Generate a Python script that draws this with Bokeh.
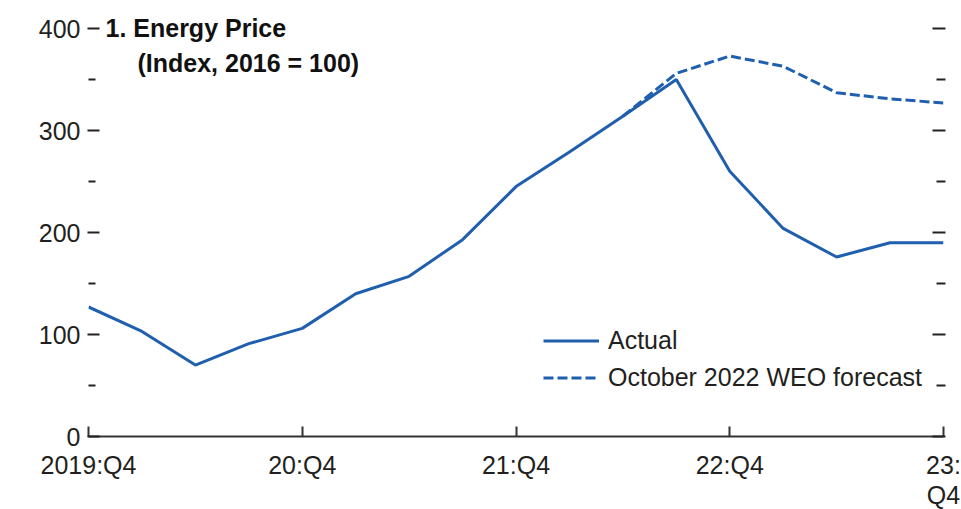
import numpy as np
from bokeh.plotting import figure
from bokeh.models import (Range1d, LinearAxis, FixedTicker, Label, Legend, LegendItem,
                          ColumnDataSource)
from bokeh.embed import file_html
from bokeh.resources import INLINE

# ---- data ----
quarters = ["2019:Q4", "20:Q1", "20:Q2", "20:Q3", "20:Q4", "21:Q1", "21:Q2", "21:Q3",
            "21:Q4", "22:Q1", "22:Q2", "22:Q3", "22:Q4", "23:Q1", "23:Q2", "23:Q3", "23:Q4"]
actual = [127, 103, 70, 91, 106, 140, 157, 193, 245, 279, 314, 350, 260, 204, 176, 190, 190]
forecast = [None, None, None, None, None, None, None, None, None, None,
            314, 356, 373, 363, 337, 331, 327]
tick_positions = [0, 4, 8, 12, 16]
tick_labels = ["2019:Q4", "20:Q4", "21:Q4", "22:Q4", "23:\nQ4"]
y_major = [0, 100, 200, 300, 400]
y_minor = [50, 150, 250, 350]

FONT = "Liberation Sans"
FS = "25px"
BLUE = "#1F5FAD"
TXT = "#231F20"

idx = list(range(len(quarters)))
src = ColumnDataSource(dict(
    x=idx,
    actual=actual,
    forecast=[np.nan if v is None else v for v in forecast],
))

FRAME_H = 428
Y_TOP = 400 * FRAME_H / 408.0   # leaves room above the 400 tick for the title

p = figure(frame_width=855, frame_height=FRAME_H, output_backend="svg", toolbar_location=None,
           x_range=Range1d(0, 16), y_range=Range1d(0, Y_TOP),
           min_border_left=88, min_border_right=18, min_border_top=8, min_border_bottom=40,
           y_axis_location=None, x_axis_location=None)
p.xgrid.visible = False
p.ygrid.visible = False
p.outline_line_color = None
p.background_fill_color = "white"

# bottom axis
xb = LinearAxis(ticker=FixedTicker(ticks=tick_positions, minor_ticks=[]))
xb.major_label_overrides = {t: l for t, l in zip(tick_positions, tick_labels)}
xb.axis_line_color = "#333333"
xb.axis_line_width = 2
xb.major_tick_line_color = "#333333"
xb.major_tick_line_width = 2
xb.major_tick_in = 10
xb.major_tick_out = 0
xb.minor_tick_line_color = None
xb.major_label_text_font = FONT
xb.major_label_text_font_size = FS
xb.major_label_text_color = TXT
xb.major_label_text_line_height = 1.1
xb.major_label_standoff = 14
p.add_layout(xb, "below")

# left axis
yl = LinearAxis(ticker=FixedTicker(ticks=y_major, minor_ticks=y_minor), bounds=(0, 400))
yl.axis_line_color = None
yl.major_tick_line_color = "#222222"
yl.major_tick_line_width = 2
yl.major_tick_in = 11
yl.major_tick_out = 1
yl.minor_tick_line_color = "#222222"
yl.minor_tick_line_width = 2
yl.minor_tick_in = 7
yl.minor_tick_out = 0
yl.major_label_text_font = FONT
yl.major_label_text_font_size = FS
yl.major_label_text_color = TXT
yl.major_label_standoff = 7
p.add_layout(yl, "left")

# right axis (ticks only)
yr = LinearAxis(ticker=FixedTicker(ticks=y_major, minor_ticks=y_minor), bounds=(0, 400))
yr.axis_line_color = None
yr.major_tick_line_color = "#222222"
yr.major_tick_line_width = 2
yr.major_tick_in = 11
yr.major_tick_out = 2
yr.minor_tick_line_color = "#222222"
yr.minor_tick_line_width = 2
yr.minor_tick_in = 7
yr.minor_tick_out = 2
yr.major_label_text_font_size = "0px"
yr.major_label_text_color = None
yr.major_label_standoff = 0
p.add_layout(yr, "right")

r_act = p.line("x", "actual", source=src, line_color=BLUE, line_width=3)
r_fc = p.line("x", "forecast", source=src, line_color=BLUE, line_width=3,
              line_dash="10 4")

legend = Legend(items=[LegendItem(label="Actual", renderers=[r_act]),
                       LegendItem(label="October 2022 WEO forecast", renderers=[r_fc])],
                location=(455, 40), orientation="vertical",
                glyph_width=56, glyph_height=37, label_height=37, spacing=0,
                padding=0, margin=0, label_standoff=9,
                border_line_color=None, background_fill_alpha=0,
                label_text_font=FONT, label_text_font_size=FS,
                label_text_color=TXT)
p.add_layout(legend, "center")

p.add_layout(Label(x=17, y=409, x_units="screen", y_units="screen",
                   text="1. Energy Price", text_font=FONT, text_font_size=FS,
                   text_font_style="bold", text_color="#111111",
                   text_baseline="middle", text_align="left"))
p.add_layout(Label(x=49, y=374, x_units="screen", y_units="screen",
                   text="(Index, 2016 = 100)", text_font=FONT, text_font_size=FS,
                   text_font_style="bold", text_color="#111111",
                   text_baseline="middle", text_align="left"))

open("out.html", "w").write(file_html(p, INLINE))
